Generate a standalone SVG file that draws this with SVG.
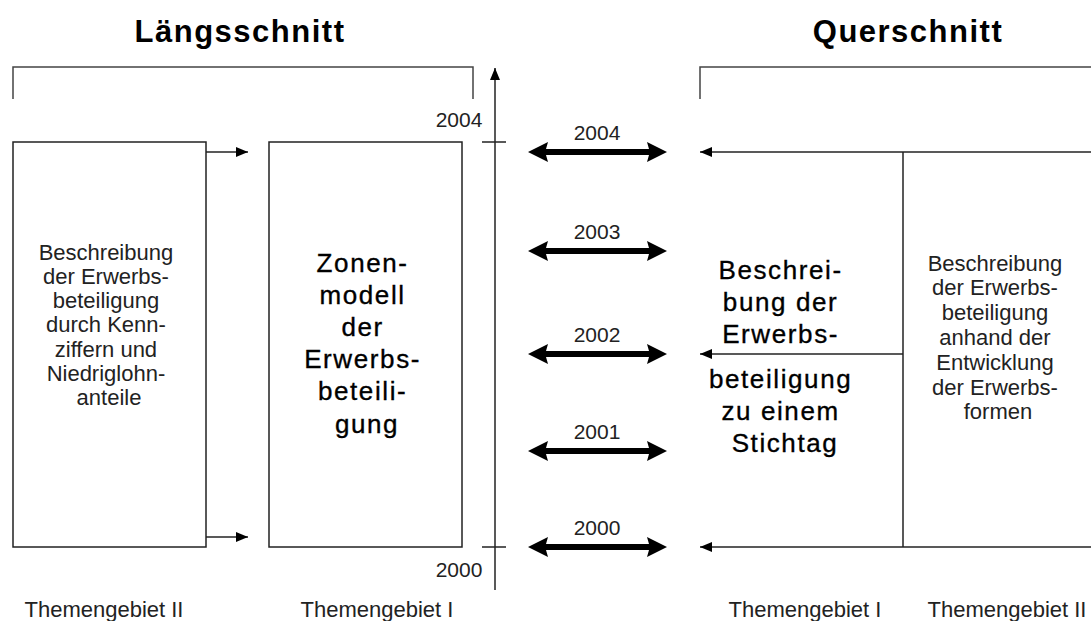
<svg xmlns="http://www.w3.org/2000/svg" width="1091" height="621" viewBox="0 0 1091 621">
<style>
.ln{stroke:#222;stroke-width:1.5;fill:none}
.br{stroke:#444;stroke-width:1.5;fill:none}
.box{stroke:#222;stroke-width:1.5;fill:#fff}
.t{font-family:"Liberation Sans",Arial,sans-serif;fill:#222;text-anchor:middle}
.s{font-size:22px}
.b{font-size:26px;letter-spacing:1.6px;fill:#000;stroke:#000;stroke-width:0.35}
.h{font-size:31px;font-weight:bold;letter-spacing:1.5px;fill:#000}
.y{font-size:21px}
</style>
<defs>
<path id="dbl" d="M0,0 L20,-10 L18,-3 L121,-3 L119,-10 L139,0 L119,10 L121,3 L18,3 L20,10 Z" fill="#000"/>
<marker id="ah" markerWidth="12" markerHeight="10" refX="12" refY="5" orient="auto" markerUnits="userSpaceOnUse">
<path d="M0,0 L12,5 L0,10 Z" fill="#000"/>
</marker>
</defs>

<g id="titles">
<text class="t h" x="240" y="42">Längsschnitt</text>
<text class="t h" x="908" y="42">Querschnitt</text>
</g>

<g id="brackets">
<path class="br" d="M13,99 V67 H473 V99"/>
<path class="br" d="M700,99 V67 H1095"/>
</g>

<g id="axis">
<line class="ln" x1="495" y1="590" x2="495" y2="68" marker-end="url(#ah)"/>
<line class="ln" x1="482" y1="142" x2="506" y2="142"/>
<line class="ln" x1="482" y1="547" x2="506" y2="547"/>
<text class="t y" x="459" y="127">2004</text>
<text class="t y" x="459" y="577">2000</text>
</g>

<g id="box-themengebiet2-left">
<rect class="box" x="13" y="142" width="193" height="405"/>
<text class="t s" x="109">
<tspan x="109" y="260">Beschreibung</tspan>
<tspan x="109" y="284">der Erwerbs-</tspan>
<tspan x="109" y="308">beteiligung</tspan>
<tspan x="109" y="332">durch Kenn-</tspan>
<tspan x="109" y="357">ziffern und</tspan>
<tspan x="109" y="381">Niedriglohn-</tspan>
<tspan x="109" y="405">anteile</tspan>
</text>
</g>

<g id="box-themengebiet1-left">
<rect class="box" x="269" y="142" width="193" height="405"/>
<text class="t b" x="367">
<tspan x="367" y="272">Zonen-</tspan>
<tspan x="367" y="304">modell</tspan>
<tspan x="367" y="336">der</tspan>
<tspan x="367" y="368">Erwerbs-</tspan>
<tspan x="367" y="400">beteili-</tspan>
<tspan x="367" y="433">gung</tspan>
</text>
</g>

<g id="querschnitt-block">
<text class="t b" x="785">
<tspan x="785" y="279">Beschrei-</tspan>
<tspan x="785" y="311">bung der</tspan>
<tspan x="785" y="343">Erwerbs-</tspan>
<tspan x="785" y="388">beteiligung</tspan>
<tspan x="785" y="420">zu einem</tspan>
<tspan x="785" y="452">Stichtag</tspan>
</text>
<text class="t s" x="998">
<tspan x="998" y="271">Beschreibung</tspan>
<tspan x="998" y="295">der Erwerbs-</tspan>
<tspan x="998" y="320">beteiligung</tspan>
<tspan x="998" y="345">anhand der</tspan>
<tspan x="998" y="370">Entwicklung</tspan>
<tspan x="998" y="395">der Erwerbs-</tspan>
<tspan x="998" y="419">formen</tspan>
</text>
</g>

<g id="connectors">
<line class="ln" x1="206" y1="152" x2="248" y2="152" marker-end="url(#ah)"/>
<line class="ln" x1="206" y1="537" x2="248" y2="537" marker-end="url(#ah)"/>
<line class="ln" x1="1095" y1="152" x2="700" y2="152" marker-end="url(#ah)"/>
<line class="ln" x1="903" y1="354" x2="700" y2="354" marker-end="url(#ah)"/>
<line class="ln" x1="1095" y1="547" x2="700" y2="547" marker-end="url(#ah)"/>
<line class="ln" x1="903" y1="152" x2="903" y2="547"/>
<use href="#dbl" x="528" y="152"/>
<use href="#dbl" x="528" y="251"/>
<use href="#dbl" x="528" y="354"/>
<use href="#dbl" x="528" y="451"/>
<use href="#dbl" x="528" y="547"/>
</g>

<g id="year-labels">
<text class="t y" x="597" y="140">2004</text>
<text class="t y" x="597" y="239">2003</text>
<text class="t y" x="597" y="342">2002</text>
<text class="t y" x="597" y="439">2001</text>
<text class="t y" x="597" y="535">2000</text>
</g>

<g id="footer-labels">
<text class="t s" x="104" y="617">Themengebiet II</text>
<text class="t s" x="377" y="617">Themengebiet I</text>
<text class="t s" x="805" y="617">Themengebiet I</text>
<text class="t s" x="1007" y="617">Themengebiet II</text>
</g>
</svg>
